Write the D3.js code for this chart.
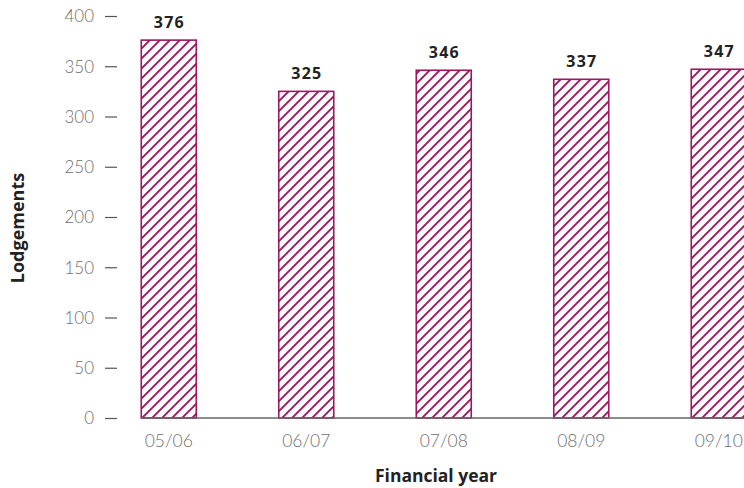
<!DOCTYPE html>
<html><head><meta charset="utf-8">
<script src="https://cdn.jsdelivr.net/npm/d3@7"></script>
<style>body{margin:0;background:#fff;}svg{display:block;font-family:"Open Sans",sans-serif;}</style>
</head><body>
<svg id="chart" width="744" height="488"></svg>
<script>
const categories = ["05/06","06/07","07/08","08/09","09/10"];
const values = [376,325,346,337,347];
const yTicks = [0,50,100,150,200,250,300,350,400];
const yTitle = "Lodgements";
const xTitle = "Financial year";

const color = "#9c1660";
const svg = d3.select("#chart");
const x = d3.scaleBand().domain(categories).range([100, 787.5]).paddingInner(0.6).paddingOuter(0.3);
const y = d3.scaleLinear().domain([0,400]).range([418,16]);

const defs = svg.append("defs");
const pat = defs.append("pattern").attr("id","hatch").attr("patternUnits","userSpaceOnUse")
  .attr("width",10).attr("height",10);
pat.append("rect").attr("width",10).attr("height",10).attr("fill","#fff");
pat.append("path").attr("d","M0,10 L10,0 M-2.5,2.5 L2.5,-2.5 M7.5,12.5 L12.5,7.5")
  .attr("stroke",color).attr("stroke-width",1.9).attr("fill","none");

// y axis
const yAxis = svg.append("g").attr("transform","translate(117,0)")
  .call(d3.axisLeft(y).tickValues(yTicks).tickSize(12).tickPadding(11));
yAxis.select(".domain").remove();
yAxis.selectAll(".tick line").attr("stroke","#555").attr("stroke-width",1.2);
yAxis.selectAll(".tick text").attr("fill","#6e6e6e").style("font-family","Lato, sans-serif")
  .style("font-size","17px").style("font-weight","300").attr("dy","0.35em");

// bars
svg.append("g").selectAll("rect").data(values).join("rect")
  .attr("x",(d,i)=>x(categories[i])).attr("width",x.bandwidth())
  .attr("y",d=>y(d)).attr("height",d=>y(0)-y(d))
  .attr("fill","url(#hatch)").attr("stroke",color).attr("stroke-width",1.6);

// baseline
svg.append("line").attr("x1",x(categories[0])).attr("x2",744).attr("y1",y(0)).attr("y2",y(0))
  .attr("stroke","#666").attr("stroke-width",1.4);

// value labels
svg.append("g").selectAll("text").data(values).join("text")
  .attr("x",(d,i)=>x(categories[i])+x.bandwidth()/2+0.6).attr("y",d=>y(d)-12)
  .attr("text-anchor","middle").attr("fill","#222").style("font-size","16px").style("font-weight","700")
  .style("letter-spacing","1.2px").text(d=>d);

// x labels
const xAxis = svg.append("g").attr("transform",`translate(0,${y(0)})`)
  .call(d3.axisBottom(x).tickSize(0).tickPadding(17));
xAxis.select(".domain").remove();
xAxis.selectAll(".tick text").attr("fill","#6e6e6e").style("font-family","Lato, sans-serif")
  .style("font-size","17.5px").style("font-weight","300");

// titles
svg.append("text").attr("transform","translate(24,228) rotate(-90)").attr("text-anchor","middle")
  .attr("fill","#222").style("font-size","18px").style("font-weight","700").text(yTitle);
svg.append("text").attr("x",436).attr("y",482).attr("text-anchor","middle")
  .attr("fill","#222").style("font-size","17.5px").style("font-weight","700").text(xTitle);
</script>
</body></html>
